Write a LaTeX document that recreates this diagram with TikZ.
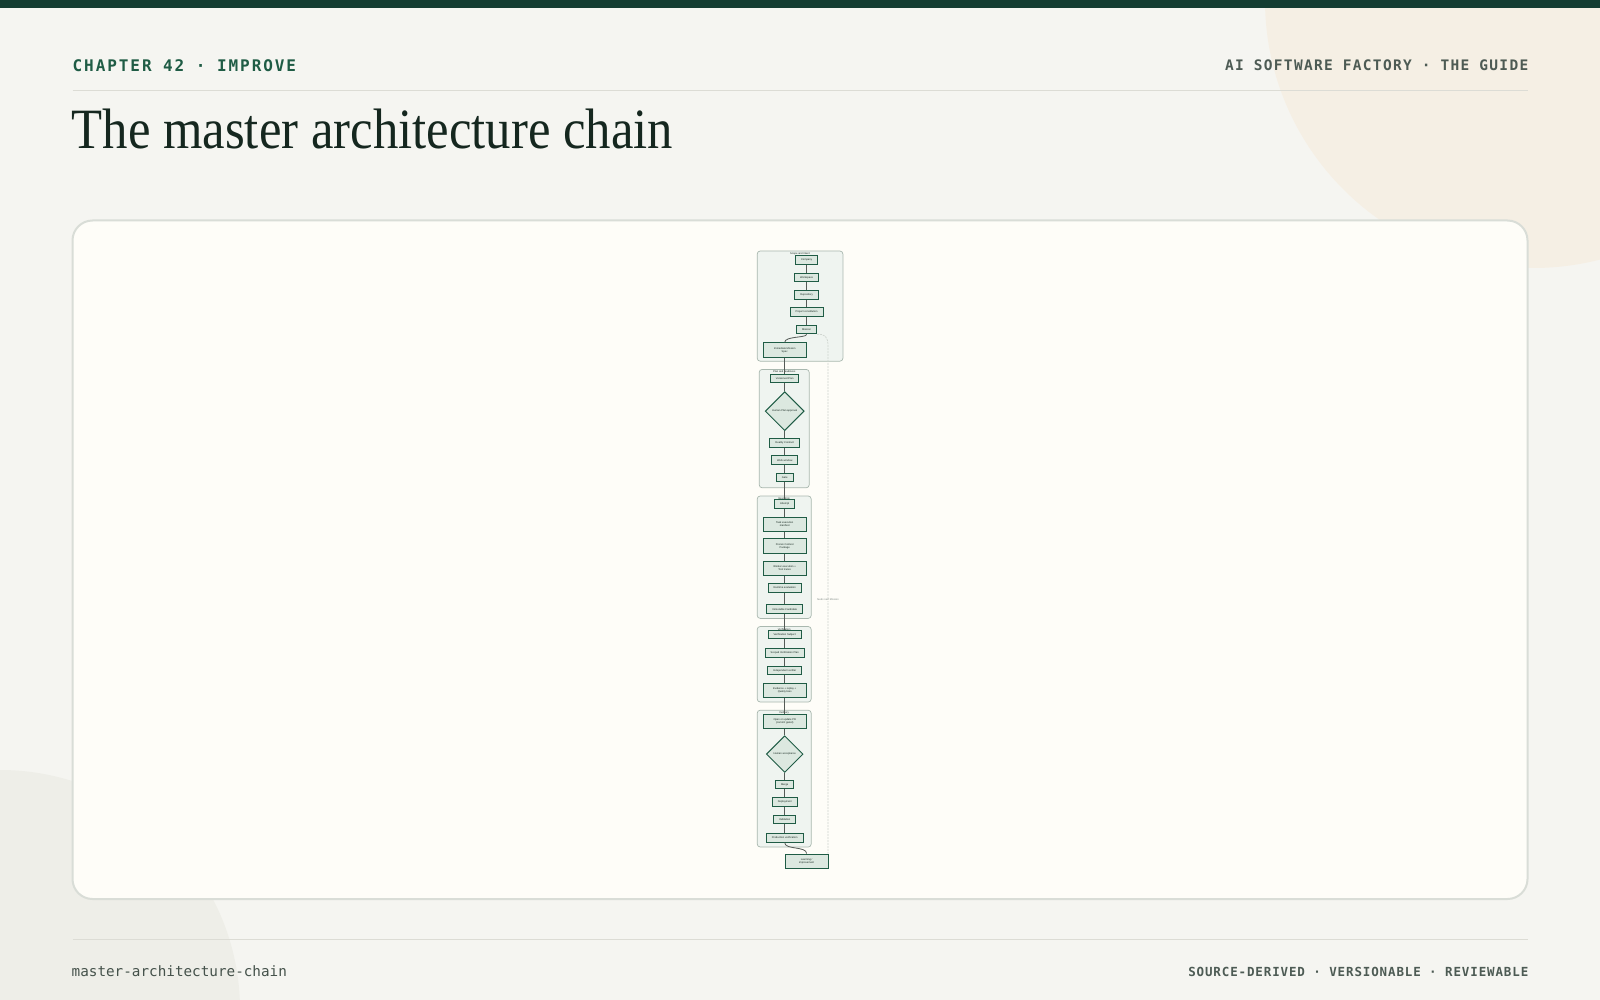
\documentclass[tikz,border=0pt]{standalone}
\usepackage{fontspec}
\usetikzlibrary{shapes.geometric}
\setmainfont{Liberation Serif}
\newfontfamily\sansfont{Liberation Sans}
\newfontfamily\chapfont[LetterSpace=12]{DejaVu Sans Mono}
\newfontfamily\guidefont[LetterSpace=9]{DejaVu Sans Mono}
\newfontfamily\footfont{DejaVu Sans Mono}
\newfontfamily\footrfont[LetterSpace=7]{DejaVu Sans Mono}
\definecolor{fond}{HTML}{F5F5F1}
\definecolor{beige}{HTML}{F5EFE4}
\definecolor{grisfond}{HTML}{EEEEE8}
\definecolor{bandeau}{HTML}{143D32}
\definecolor{vert}{HTML}{1F5C45}
\definecolor{vertpale}{HTML}{DCE8E0}
\definecolor{groupe}{HTML}{EFF4F0}
\definecolor{bordgroupe}{HTML}{A9B8AF}
\definecolor{carte}{HTML}{FEFDF8}
\definecolor{bordcarte}{HTML}{D9DDD7}
\definecolor{filet}{HTML}{DCDCD5}
\definecolor{encre}{HTML}{15271F}
\definecolor{ardoise}{HTML}{4D5B54}
\definecolor{trait}{HTML}{555B57}
\definecolor{pale}{HTML}{CFD5CF}
\begin{document}
\begin{tikzpicture}[x=1pt,y=-1pt]
		\tikzstyle{brique}=[draw=vert, line width=1, fill=vertpale, inner xsep=5.5, inner ysep=0, minimum height=8.5, font=\sansfont\fontsize{2.6}{3}\selectfont, text=encre]
		\tikzstyle{brique_double}=[brique, minimum width=43, minimum height=14.3, align=center]
		\tikzstyle{losange}=[brique, diamond, inner sep=0, aspect=1, align=center]
		\tikzstyle{cadre}=[draw=bordgroupe, line width=0.7, fill=groupe, rounded corners=3]
		\tikzstyle{titre_cadre}=[font=\sansfont\fontsize{2.6}{3}\selectfont, text=encre, inner sep=0]
		\tikzstyle{lien}=[draw=trait, line width=0.8]
		\tikzstyle{retour}=[draw=pale, line width=0.7, dash pattern=on 2 off 1]
		\useasboundingbox (0,0) rectangle (1600,1000);
		% page
		\fill[fond] (0,0) rectangle (1600,1000);
		\begin{scope}
			\clip (0,0) rectangle (1600,1000);
			\fill[beige] (1533,0) circle (268);
			\fill[grisfond] (0,1010) circle (240);
		\end{scope}
		\fill[bandeau] (0,0) rectangle (1600,8.5);
		\node[anchor=west, inner sep=0, text=vert, font=\chapfont\bfseries\fontsize{16}{18}\selectfont] (chapitre) at (72.5,65.3) {CHAPTER 42 · IMPROVE};
		\node[anchor=east, inner sep=0, text=ardoise, font=\guidefont\bfseries\fontsize{14.5}{17}\selectfont] (guide) at (1528.5,65.3) {AI SOFTWARE FACTORY · THE GUIDE};
		\draw[filet, line width=1] (72.5,91) -- (1527.5,91);
		\node[anchor=base west, inner sep=0, text=encre, font=\fontsize{57}{60}\selectfont] (titre) at (71.5,149) {\scalebox{0.89}[1]{The master architecture chain}};
		\draw[bordcarte, line width=2, fill=carte, rounded corners=20] (72.5,220.5) rectangle (1527.5,899);
		\draw[filet, line width=1] (72.5,939) -- (1527.5,939);
		\node[anchor=west, inner sep=0, text=ardoise!90!black, font=\footfont\fontsize{14.3}{16}\selectfont] (pied) at (71.5,971.5) {master-architecture-chain};
		\node[anchor=east, inner sep=0, text=ardoise, font=\footrfont\bfseries\fontsize{12.5}{15}\selectfont] (pied_droit) at (1528.5,971.5) {SOURCE-DERIVED · VERSIONABLE · REVIEWABLE};
		% groupes
		\draw[cadre] (757.2,251) rectangle (842.9,361.2);
		\draw[cadre] (759.2,369.4) rectangle (809.2,487.8);
		\draw[cadre] (757.2,496) rectangle (811.2,618.4);
		\draw[cadre] (757.2,626.5) rectangle (811.2,702);
		\draw[cadre] (757.2,710.2) rectangle (811.2,847);
		\node[titre_cadre] (g1) at (800,253.6) {Scope and Intent};
		\node[titre_cadre] (g2) at (784.2,372) {Plan and readiness};
		\node[titre_cadre] (g3) at (784.2,498.6) {Execution};
		\node[titre_cadre] (g4) at (784.2,629.1) {Verification};
		\node[titre_cadre] (g5) at (784.2,712.8) {Delivery};
		% perimetre
		\node[brique] (c1) at (806.6,260.2) {Company};
		\node[brique] (c2) at (806.6,277.6) {Workspace};
		\node[brique] (c3) at (806.6,294.9) {Repository};
		\node[brique] (c4) at (806.6,312.2) {Project constitution};
		\node[brique] (c5) at (806.6,329.6) {Mission};
		\node[brique_double] (c6) at (784.7,350) {Immediate Mission\\Spec};
		% plan
		\node[brique] (p1) at (784.7,378.6) {Versioned Plan};
		\node[losange, minimum size=39] (p2) at (784.7,411.2) {Human Plan approval};
		\node[brique] (p3) at (784.7,442.9) {Reality Contract};
		\node[brique] (p4) at (784.7,460.2) {Work window};
		\node[brique] (p5) at (784.7,477.5) {Gate};
		% execution
		\node[brique] (e1) at (784.7,504.1) {Attempt};
		\node[brique_double] (e2) at (784.7,524.5) {Task execution\\manifest};
		\node[brique_double] (e3) at (784.7,545.9) {Frozen Context\\Package};
		\node[brique_double] (e4) at (784.7,568.4) {Worker execution +\\Tool traces};
		\node[brique] (e5) at (784.7,587.8) {Runtime evaluation};
		\node[brique] (e6) at (784.7,609.2) {Immutable Candidate};
		% verification
		\node[brique] (v1) at (784.7,634.7) {Verification Subject};
		\node[brique] (v2) at (784.7,653.1) {Scoped Verification Plan};
		\node[brique] (v3) at (784.7,670.4) {Independent verifier};
		\node[brique_double] (v4) at (784.7,690.8) {Evidence + replay +\\Quality bars};
		% livraison
		\node[brique_double] (d1) at (784.7,721.4) {Open or update PR\\(commit gated)};
		\node[losange, minimum size=36.7] (d2) at (784.7,754.1) {Human acceptance};
		\node[brique] (d3) at (784.7,784.7) {Merge};
		\node[brique] (d4) at (784.7,802) {Deployment};
		\node[brique] (d5) at (784.7,819.4) {Validation};
		\node[brique] (d6) at (784.7,837.8) {Production verification};
		\node[brique_double] (f) at (806.6,861.2) {Learning /\\improvement};
		% liens
		\foreach \a/\b in {c1/c2,c2/c3,c3/c4,c4/c5,c6/p1,p1/p2,p2/p3,p3/p4,p4/p5,p5/e1,e1/e2,e2/e3,e3/e4,e4/e5,e5/e6,e6/v1,v1/v2,v2/v3,v3/v4,v4/d1,d1/d2,d2/d3,d3/d4,d4/d5,d5/d6}
			\draw[lien] (\a.south) -- (\b.north);
		\draw[lien] (c5.south) .. controls (806.6,338) and (784.7,336) .. (c6.north);
		\draw[lien] (d6.south) .. controls (784.7,850) and (806.6,846) .. (f.north);
		\draw[retour] (c5.south east) .. controls (825,333.7) and (828,337) .. (828,346) -- ([xshift=-0.6]f.north east);
		\node[fill=carte, inner sep=0.4, text=ardoise!70, font=\sansfont\fontsize{2.6}{3}\selectfont] (boucle) at (828,600) {feeds next Mission};
	\end{tikzpicture}
\end{document}
